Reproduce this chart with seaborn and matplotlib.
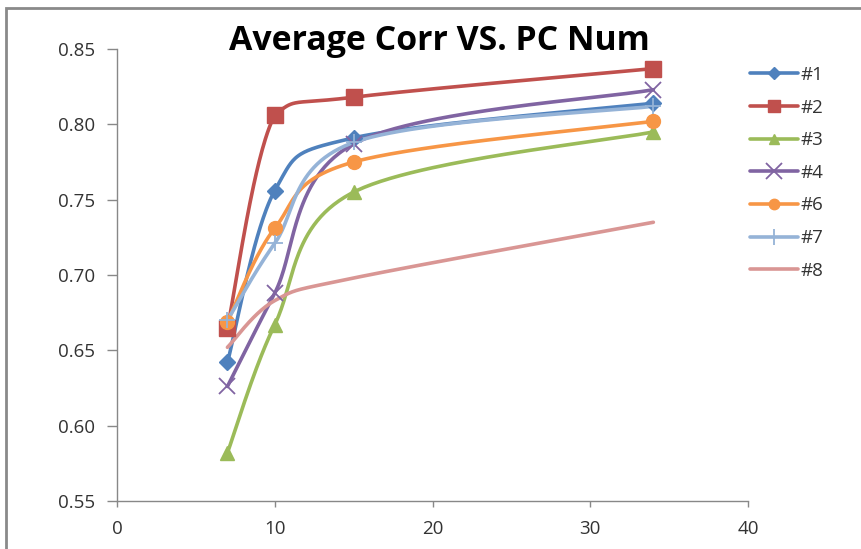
import numpy as np
import pandas as pd
import matplotlib
matplotlib.use("Agg")
import matplotlib.pyplot as plt
from matplotlib.lines import Line2D
from matplotlib.patches import Rectangle
import seaborn as sns

sns.set_style("white")
plt.rcParams['font.family'] = ['Open Sans', 'DejaVu Sans']

# ---- data ----
pc_num = [7, 10, 15, 34]
labels = ["#1", "#2", "#3", "#4", "#6", "#7", "#8"]
s1 = [0.642, 0.756, 0.791, 0.814]
s2 = [0.665, 0.806, 0.818, 0.837]
s3 = [0.582, 0.667, 0.755, 0.795]
s4 = [0.626, 0.688, 0.787, 0.823]
s6 = [0.669, 0.731, 0.775, 0.802]
s7 = [0.670, 0.721, 0.788, 0.812]
s8 = [0.652, 0.683, 0.698, 0.735]
series = [s1, s2, s3, s4, s6, s7, s8]

colors = ["#4F81BD", "#C0504D", "#9BBB59", "#8064A2", "#F79646", "#95B3D7", "#D99694"]
markers = ["D", "s", "^", "x", "o", "+", None]
msizes = [8.5, 11, 10.5, 11, 10, 11, 0]
title = "Average Corr VS. PC Num"
xticks = [0, 10, 20, 30, 40]
yticks = [0.55, 0.60, 0.65, 0.70, 0.75, 0.80, 0.85]


def smooth(xs, ys, n=60):
    """Excel-like smoothed line (Catmull-Rom as cubic Bezier, no overshoot)."""
    P = np.column_stack([xs, ys]).astype(float)
    m = len(P)
    out = []
    for i in range(m - 1):
        p0 = P[i - 1] if i > 0 else P[i]
        p1 = P[i]
        p2 = P[i + 1]
        p3 = P[i + 2] if i + 2 < m else P[i + 1]
        c1 = p1 + (p2 - p0) / 6.0
        c2 = p2 - (p3 - p1) / 6.0
        lo, hi = min(p1[1], p2[1]), max(p1[1], p2[1])
        c1[1] = np.clip(c1[1], lo, hi)
        c2[1] = np.clip(c2[1], lo, hi)
        t = np.linspace(0, 1, n)[:, None]
        seg = ((1 - t) ** 3) * p1 + 3 * ((1 - t) ** 2) * t * c1 + 3 * (1 - t) * t ** 2 * c2 + t ** 3 * p2
        if i > 0:
            seg = seg[1:]
        out.append(seg)
    return np.vstack(out)


rows = []
for lab, ys in zip(labels, series):
    cur = smooth(pc_num, ys)
    for k, (xx, yy) in enumerate(cur):
        rows.append({"series": lab, "order": k, "x": xx, "y": yy})
df = pd.DataFrame(rows)

fig = plt.figure(figsize=(8.62, 5.49), dpi=100)
ax = fig.add_axes([117 / 862, 1 - 501 / 549, (748 - 117) / 862, (501 - 49) / 549])

sns.lineplot(data=df, x="x", y="y", hue="series", palette=dict(zip(labels, colors)),
             sort=False, estimator=None, units="series", linewidth=2.6, legend=False, ax=ax)

for lab, ys, c, mk, ms in zip(labels, series, colors, markers, msizes):
    if mk is None:
        continue
    if mk in ("x", "+"):
        ax.plot(pc_num, ys, linestyle="none", marker=mk, markersize=ms, color=c,
                markeredgewidth=1.3, zorder=5)
    else:
        ax.plot(pc_num, ys, linestyle="none", marker=mk, markersize=ms, color=c,
                markeredgecolor=c, zorder=5)

ax.set_xlim(0, 40)
ax.set_ylim(0.55, 0.85)
ax.set_xticks(xticks)
ax.set_xticklabels([str(v) for v in xticks])
ax.set_yticks(yticks)
ax.set_yticklabels([f"{v:.2f}" for v in yticks])
ax.set_xlabel("")
ax.set_ylabel("")

for side in ("top", "right"):
    ax.spines[side].set_visible(False)
for side in ("left", "bottom"):
    ax.spines[side].set_color("#888888")
    ax.spines[side].set_linewidth(1.0)
ax.tick_params(axis="both", which="both", direction="out", width=1.0,
               color="#888888", labelsize=13.5, labelcolor="#333333")
ax.tick_params(axis="y", length=7, pad=8.5)
ax.tick_params(axis="x", length=4.5, pad=9)
ax.tick_params(left=True, bottom=True)

fig.text(439 / 862, 1 - 41 / 549, title, ha="center", va="center",
         fontsize=24.4, fontweight="bold", color="#000000")

handles = []
for c, mk, ms in zip(colors, markers, msizes):
    if mk is None:
        handles.append(Line2D([], [], color=c, linewidth=2.6))
    elif mk in ("x", "+"):
        handles.append(Line2D([], [], color=c, linewidth=2.6, marker=mk, markersize=ms,
                              markeredgewidth=1.3))
    else:
        handles.append(Line2D([], [], color=c, linewidth=2.6, marker=mk, markersize=ms * 0.75,
                              markeredgecolor=c))
leg = fig.legend(handles, labels, loc="upper left", bbox_to_anchor=(750 / 862, 1 - 66 / 549),
                 frameon=False, fontsize=13.5, handlelength=2.55, handletextpad=0.12,
                 labelspacing=0.78, borderaxespad=0, borderpad=0)
for t in leg.get_texts():
    t.set_color("#333333")

# outer chart border (partially visible)
fig.patches.append(Rectangle((6 / 862, -0.05), 1.1, 1 - 8 / 549 + 0.05,
                             transform=fig.transFigure, fill=False,
                             edgecolor="#8a8a8a", linewidth=2.0))

fig.savefig("out.png", dpi=100)
